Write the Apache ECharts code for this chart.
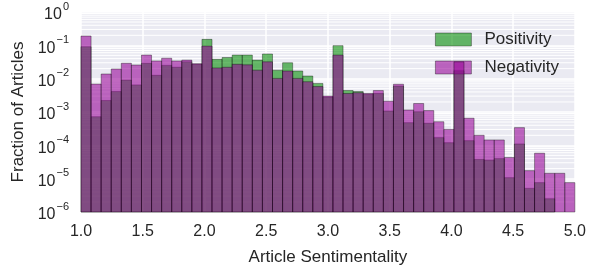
<!DOCTYPE html>
<html>
<head>
<meta charset="utf-8">
<script src="https://cdn.jsdelivr.net/npm/echarts@6/dist/echarts.min.js"></script>
<style>
html,body{margin:0;padding:0;background:#fff;}
#chart{width:589px;height:280px;}
</style>
</head>
<body>
<div id="chart"></div>
<script>
// Histogram bins: 49 equal bins between 1.0 and 5.0
const BIN_MIN = 1.0;
const BIN_MAX = 5.0;
const BIN_COUNT = 49;
const xTicks = [1.0, 1.5, 2.0, 2.5, 3.0, 3.5, 4.0, 4.5, 5.0];
const yTickExponents = [0, -1, -2, -3, -4, -5, -6];

// Fraction of articles per bin
const positivity = [
  0.091, 7.2e-4, 2.2e-3, 4.1e-3, 9.1e-3, 6.5e-3, 0.029, 0.0126, 0.025, 0.022,
  0.032, 0.027, 0.151, 0.038, 0.043, 0.051, 0.051, 0.036, 0.055, 0.018,
  0.030, 0.017, 0.012, 0.0072, 0.0028, 0.098, 0.0044, 0.0041, 0.0034, 0.0036,
  0.00107, 0.0060, 4.8e-4, 1.02e-3, 4.6e-4, 1.7e-4, 1.2e-4, 0.0174, 1.38e-4, 3.8e-5,
  3.6e-5, 4.0e-5, 1.07e-5, 1.1e-4, 5.1e-6, 7.6e-6, 2.5e-6, 0, 0
];
const negativity = [
  0.19, 6.9e-3, 0.0138, 0.0195, 0.029, 0.0257, 0.051, 0.034, 0.041, 0.034,
  0.036, 0.028, 0.095, 0.021, 0.022, 0.027, 0.026, 0.018, 0.032, 0.0102,
  0.017, 0.0102, 0.0081, 0.0058, 0.0030, 0.051, 0.0036, 0.0038, 0.0036, 0.0044,
  0.0021, 0.0068, 1.15e-3, 1.8e-3, 1.1e-3, 5.1e-4, 3.0e-4, 0.032, 6.5e-4, 2.0e-4,
  1.45e-4, 1.45e-4, 4.3e-5, 3.4e-4, 1.74e-5, 5.8e-5, 1.45e-5, 1.45e-5, 7.6e-6
];

const Y_MIN = 1e-6;
const Y_MAX = 1;

const GREEN = 'rgba(0,140,0,0.58)';
const PURPLE = 'rgba(150,0,150,0.58)';
const EDGE = 'rgba(0,0,0,0.45)';

function binData(values) {
  const w = (BIN_MAX - BIN_MIN) / BIN_COUNT;
  return values.map((v, i) => [BIN_MIN + i * w, BIN_MIN + (i + 1) * w, v]);
}

// minor grid values 2..9 x 10^k
const minorGridValues = [];
for (let e = -6; e < 0; e++) {
  for (let m = 2; m <= 9; m++) minorGridValues.push([m * Math.pow(10, e)]);
}

function renderBar(fill) {
  return function (params, api) {
    const x0 = api.value(0), x1 = api.value(1), v = api.value(2);
    if (!(v > Y_MIN)) return;
    const p0 = api.coord([x0, v]);
    const p1 = api.coord([x1, Y_MIN]);
    return {
      type: 'rect',
      shape: { x: p0[0], y: p0[1], width: p1[0] - p0[0], height: p1[1] - p0[1] },
      style: { fill: fill, stroke: EDGE, lineWidth: 0.8 }
    };
  };
}

function renderMinorGrid(params, api) {
  const cs = params.coordSys;
  const p = api.coord([BIN_MIN, api.value(0)]);
  return {
    type: 'line',
    shape: { x1: cs.x, y1: p[1], x2: cs.x + cs.width, y2: p[1] },
    style: { stroke: '#ffffff', lineWidth: 1 },
    silent: true
  };
}

const chart = echarts.init(document.getElementById('chart'), null, { renderer: 'canvas' });
const FONT = '"Liberation Sans", Arial, sans-serif';

chart.setOption({
  animation: false,
  backgroundColor: '#ffffff',
  textStyle: { fontFamily: FONT },
  grid: {
    left: 81, right: 12, top: 12, bottom: 68,
    show: true, backgroundColor: '#EAEAF2', borderWidth: 0
  },
  legend: {
    left: 435, top: 31, padding: 0,
    orient: 'vertical',
    itemWidth: 36, itemHeight: 13, itemGap: 11,
    icon: 'rect',
    textStyle: { fontSize: 17, color: '#262626', fontFamily: FONT, padding: [0, 0, 0, 8] },
    data: [
      { name: 'Positivity', itemStyle: { color: GREEN, borderColor: EDGE, borderWidth: 0.8 } },
      { name: 'Negativity', itemStyle: { color: PURPLE, borderColor: EDGE, borderWidth: 0.8 } }
    ]
  },
  xAxis: {
    type: 'value',
    min: BIN_MIN, max: BIN_MAX, interval: 0.5,
    name: 'Article Sentimentality',
    nameLocation: 'middle', nameGap: 37,
    nameTextStyle: { fontSize: 17, color: '#262626', fontFamily: FONT },
    axisLine: { show: false }, axisTick: { show: false },
    axisLabel: {
      fontSize: 16, color: '#262626', margin: 12, fontFamily: FONT,
      formatter: v => xTicks.some(t => Math.abs(t - v) < 1e-9) ? v.toFixed(1) : ''
    },
    splitLine: { show: true, lineStyle: { color: '#ffffff', width: 1.5 } }
  },
  yAxis: {
    type: 'log', logBase: 10,
    min: Y_MIN, max: Y_MAX, splitNumber: 6,
    name: 'Fraction of Articles',
    nameLocation: 'middle', nameGap: 54, nameRotate: 90,
    nameTextStyle: { fontSize: 17, color: '#262626', fontFamily: FONT },
    axisLine: { show: false }, axisTick: { show: false },
    axisLabel: {
      margin: 12, color: '#262626', fontFamily: FONT,
      formatter: v => {
        const e = Math.round(Math.log10(v));
        if (yTickExponents.indexOf(e) < 0) return '';
        return '{a|10}{b|' + (e < 0 ? '\u2212' + (-e) : String(e)) + '}';
      },
      rich: {
        a: { fontSize: 16, fontFamily: FONT, color: '#262626', verticalAlign: 'bottom', lineHeight: 22 },
        b: { fontSize: 11, fontFamily: FONT, color: '#262626', verticalAlign: 'top', lineHeight: 22, padding: [0, 0, 0, 1] }
      }
    },
    splitLine: { show: true, lineStyle: { color: '#ffffff', width: 1.5 } }
  },
  series: [
    {
      name: 'grid-minor', type: 'custom', silent: true, z: 1,
      renderItem: renderMinorGrid,
      encode: { y: 0 },
      tooltip: { show: false },
      data: minorGridValues
    },
    {
      name: 'Positivity', type: 'custom', z: 3,
      renderItem: renderBar(GREEN),
      encode: { x: [0, 1], y: 2 },
      itemStyle: { color: GREEN },
      data: binData(positivity)
    },
    {
      name: 'Negativity', type: 'custom', z: 4,
      renderItem: renderBar(PURPLE),
      encode: { x: [0, 1], y: 2 },
      itemStyle: { color: PURPLE },
      data: binData(negativity)
    }
  ]
});
</script>
</body>
</html>
